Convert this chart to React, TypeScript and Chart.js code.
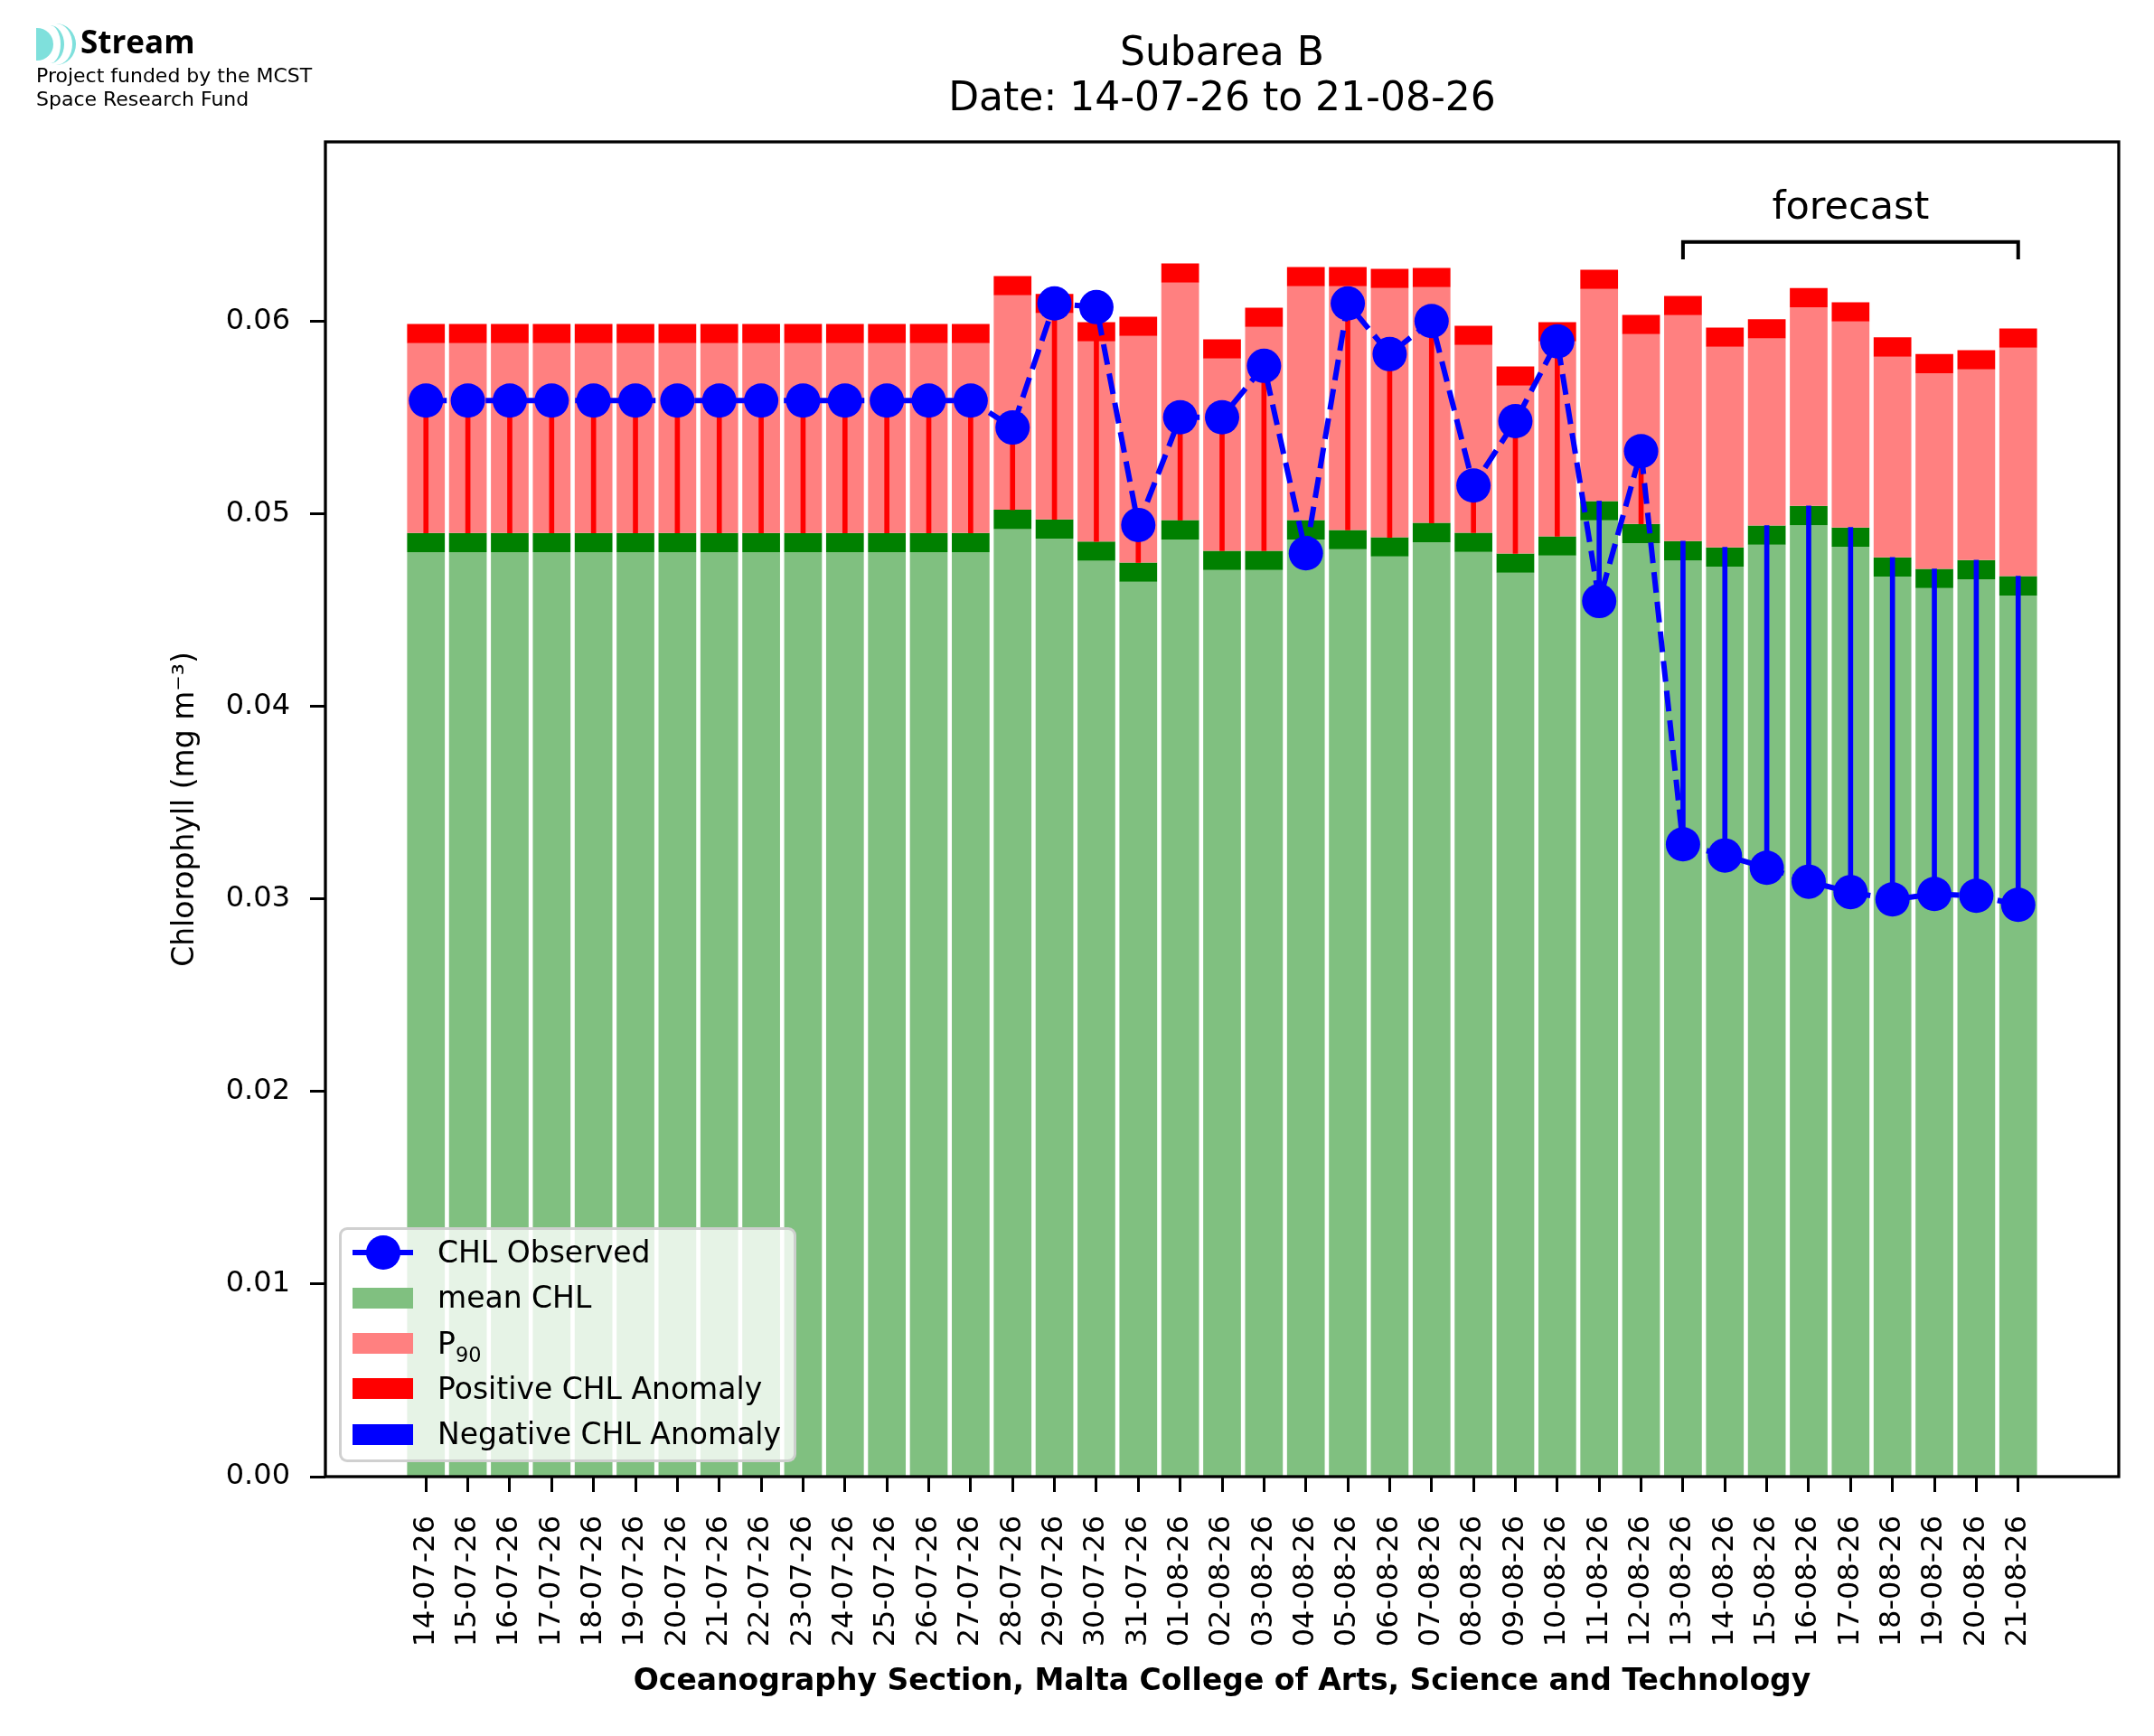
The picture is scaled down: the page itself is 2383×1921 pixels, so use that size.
import React, { useEffect, useRef } from 'react';
import Chart from 'chart.js/auto';

// --- data ---
const dates = [
    '14-07-26', '15-07-26', '16-07-26', '17-07-26', '18-07-26', '19-07-26', '20-07-26',
    '21-07-26', '22-07-26', '23-07-26', '24-07-26', '25-07-26', '26-07-26', '27-07-26',
    '28-07-26', '29-07-26', '30-07-26', '31-07-26', '01-08-26', '02-08-26', '03-08-26',
    '04-08-26', '05-08-26', '06-08-26', '07-08-26', '08-08-26', '09-08-26', '10-08-26',
    '11-08-26', '12-08-26', '13-08-26', '14-08-26', '15-08-26', '16-08-26', '17-08-26',
    '18-08-26', '19-08-26', '20-08-26', '21-08-26',
];

// top of the light green part of each bar
const meanChl = [
    0.0480, 0.0480, 0.0480, 0.0480, 0.0480, 0.0480, 0.0480,
    0.0480, 0.0480, 0.0480, 0.0480, 0.0480, 0.0480, 0.0480,
    0.0492, 0.0487, 0.04755, 0.04646, 0.04866, 0.04707, 0.04707,
    0.04866, 0.04815, 0.04777, 0.04852, 0.04801, 0.04693, 0.04782,
    0.04965, 0.04847, 0.04757, 0.04725, 0.04838, 0.0494, 0.04828,
    0.04673, 0.04613, 0.04659, 0.04575,
];

// top of the pink (P90) part of each bar
const p90Chl = [
    0.05885, 0.05885, 0.05885, 0.05885, 0.05885, 0.05885, 0.05885,
    0.05885, 0.05885, 0.05885, 0.05885, 0.05885, 0.05885, 0.05885,
    0.06133, 0.06041, 0.05894, 0.05922, 0.06199, 0.05805, 0.05969,
    0.0618, 0.0618, 0.06171, 0.06176, 0.05875, 0.05664, 0.05894,
    0.06166, 0.05932, 0.0603, 0.05866, 0.05909, 0.06071, 0.05997,
    0.05815, 0.05729, 0.05749, 0.05861,
];

const observedChl = [
    0.05587, 0.05587, 0.05587, 0.05587, 0.05587, 0.05587, 0.05587,
    0.05587, 0.05587, 0.05587, 0.05587, 0.05587, 0.05587, 0.05587,
    0.05447, 0.06091, 0.06072, 0.04941, 0.0550, 0.0550, 0.05767,
    0.04794, 0.06091, 0.05828, 0.0600, 0.05146, 0.0548, 0.05894,
    0.04546, 0.05324, 0.03283, 0.03225, 0.03161, 0.03089, 0.03035,
    0.02997, 0.03025, 0.03016, 0.02969,
];

// 1 = positive anomaly stem, -1 = negative anomaly stem, 0 = none
const anomalySign = [
    1, 1, 1, 1, 1, 1, 1,
    1, 1, 1, 1, 1, 1, 1,
    1, 1, 1, 1, 1, 1, 1,
    0, 1, 1, 1, 1, 1, 1,
    -1, 1, -1, -1, -1, -1, -1,
    -1, -1, -1, -1,
];

const bandHeight = 0.001;
const yTickValues = [0, 0.01, 0.02, 0.03, 0.04, 0.05, 0.06];
const forecastStart = 30;
const forecastEnd = 38;

const FONT = 'DejaVu Sans';
const LIGHT_GREEN = '#80c080';
const DARK_GREEN = '#008000';
const PINK = '#ff8080';
const RED = '#ff0000';
const BLUE = '#0000ff';

const frameAndLabel = {
    id: 'frameAndLabel',
    afterDraw(chart: any) {
        const { ctx, chartArea, scales } = chart;
        ctx.save();
        ctx.fillStyle = '#000';
        ctx.font = `43px "${FONT}"`;
        ctx.textAlign = 'center';
        ctx.textBaseline = 'alphabetic';
        ctx.fillText('forecast',
            scales.x.getPixelForValue((forecastStart + forecastEnd) / 2),
            scales.y.getPixelForValue(0.0653));
        ctx.strokeStyle = '#000';
        ctx.lineWidth = 3.3;
        ctx.strokeRect(chartArea.left, chartArea.top, chartArea.width, chartArea.height);
        ctx.restore();
    },
};

const ChlChart: React.FC = () => {
    const canvasRef = useRef<HTMLCanvasElement>(null);
    const chartRef = useRef<Chart>();

    useEffect(() => {
        const ctx = canvasRef.current?.getContext('2d');
        if (!ctx) return;
        if (chartRef.current) chartRef.current.destroy();

        const idx = dates.map((_, i) => i);
        const barOpts = { grouped: false, categoryPercentage: 1, barPercentage: 0.9, borderWidth: 0 };
        const stemOpts = { grouped: false, barThickness: 5, borderWidth: 0 };
        const tickGrid = {
            display: true, offset: false, drawOnChartArea: false, drawTicks: true,
            tickLength: 17, tickWidth: 3, tickColor: '#000',
        };

        chartRef.current = new Chart(ctx, {
            type: 'bar',
            data: {
                datasets: [
                    {
                        type: 'line',
                        label: 'CHL Observed',
                        data: observedChl.map((v, i) => ({ x: i, y: v })),
                        borderColor: BLUE,
                        backgroundColor: BLUE,
                        borderWidth: 6,
                        borderDash: [23, 10],
                        pointRadius: 19,
                        pointHoverRadius: 19,
                        pointBorderWidth: 0,
                        pointBackgroundColor: BLUE,
                        tension: 0,
                    },
                    {
                        label: 'Positive CHL Anomaly',
                        data: idx.filter(i => anomalySign[i] > 0)
                            .map(i => ({ x: i, y: [meanChl[i] + bandHeight, observedChl[i]] })),
                        backgroundColor: RED,
                        ...stemOpts,
                    },
                    {
                        label: 'Negative CHL Anomaly',
                        data: idx.filter(i => anomalySign[i] < 0)
                            .map(i => ({ x: i, y: [observedChl[i], meanChl[i] + bandHeight] })),
                        backgroundColor: BLUE,
                        ...stemOpts,
                    },
                    {
                        type: 'line',
                        label: 'forecast bracket',
                        data: [
                            { x: forecastStart, y: 0.0632 },
                            { x: forecastStart, y: 0.0641 },
                            { x: forecastEnd, y: 0.0641 },
                            { x: forecastEnd, y: 0.0632 },
                        ],
                        borderColor: '#000',
                        borderWidth: 4,
                        pointRadius: 0,
                        tension: 0,
                    },
                    {
                        label: 'P90 anomaly band',
                        data: idx.map(i => ({ x: i, y: [p90Chl[i], p90Chl[i] + bandHeight] })),
                        backgroundColor: RED,
                        ...barOpts,
                    },
                    {
                        label: 'P90',
                        data: idx.map(i => ({ x: i, y: [meanChl[i] + bandHeight, p90Chl[i]] })),
                        backgroundColor: PINK,
                        ...barOpts,
                    },
                    {
                        label: 'mean band',
                        data: idx.map(i => ({ x: i, y: [meanChl[i], meanChl[i] + bandHeight] })),
                        backgroundColor: DARK_GREEN,
                        ...barOpts,
                    },
                    {
                        label: 'mean CHL',
                        data: idx.map(i => ({ x: i, y: [0, meanChl[i]] })),
                        backgroundColor: LIGHT_GREEN,
                        ...barOpts,
                    },
                ] as any,
            },
            options: {
                animation: false,
                responsive: true,
                maintainAspectRatio: false,
                events: [],
                layout: { padding: { left: 186, right: 39, top: 157, bottom: 40 } },
                plugins: {
                    legend: { display: false },
                    tooltip: { enabled: false },
                    title: { display: false },
                },
                scales: {
                    x: {
                        type: 'linear',
                        offset: false,
                        min: -2.4,
                        max: 40.4,
                        afterBuildTicks: (scale: any) => {
                            scale.ticks = dates.map((_, i) => ({ value: i }));
                        },
                        afterFit: (scale: any) => { scale.height = 247; },
                        ticks: {
                            autoSkip: false,
                            minRotation: 90,
                            maxRotation: 90,
                            padding: 26,
                            color: '#000',
                            font: { family: FONT, size: 32 },
                            callback: (v: any) => dates[Math.round(Number(v))] ?? '',
                        },
                        grid: tickGrid,
                        border: { display: false },
                        title: {
                            display: true,
                            text: 'Oceanography Section, Malta College of Arts, Science and Technology',
                            color: '#000',
                            font: { family: FONT, size: 33, weight: 'bold' },
                            padding: 0,
                        },
                    },
                    y: {
                        type: 'linear',
                        min: 0,
                        max: 0.0693,
                        afterBuildTicks: (scale: any) => {
                            scale.ticks = yTickValues.map(v => ({ value: v }));
                        },
                        afterFit: (scale: any) => { scale.width = 174; },
                        ticks: {
                            padding: 22,
                            color: '#000',
                            font: { family: FONT, size: 32 },
                            callback: (v: any) => Number(v).toFixed(2),
                        },
                        grid: tickGrid,
                        border: { display: false },
                        title: {
                            display: true,
                            text: 'Chlorophyll (mg m\u207B\u00B3)',
                            color: '#000',
                            font: { family: FONT, size: 33 },
                            padding: 0,
                        },
                    },
                },
            } as any,
            plugins: [frameAndLabel],
        });

        return () => {
            if (chartRef.current) {
                chartRef.current.destroy();
                chartRef.current = undefined;
            }
        };
    }, []);

    return (
        <div style={{ position: 'absolute', left: 0, top: 0, width: 2383, height: 1921 }}>
            <canvas ref={canvasRef}></canvas>
        </div>
    );
};

const legendRows: { label: React.ReactNode; kind: 'line' | 'patch'; color: string }[] = [
    { label: 'CHL Observed', kind: 'line', color: BLUE },
    { label: 'mean CHL', kind: 'patch', color: LIGHT_GREEN },
    { label: <>P<span style={{ fontSize: '0.68em', position: 'relative', top: 9 }}>90</span></>, kind: 'patch', color: PINK },
    { label: 'Positive CHL Anomaly', kind: 'patch', color: RED },
    { label: 'Negative CHL Anomaly', kind: 'patch', color: BLUE },
];

const Legend: React.FC = () => (
    <div style={{
        position: 'absolute', left: 375, top: 1358, width: 506, height: 260,
        boxSizing: 'border-box', border: '3px solid rgba(200,200,200,0.85)', borderRadius: 9,
        background: 'rgba(255,255,255,0.8)', fontFamily: FONT, fontSize: 33, color: '#000',
    }}>
        {legendRows.map((row, i) => {
            const cy = 25 + i * 50.3;
            return (
                <React.Fragment key={i}>
                    {row.kind === 'line' ? (
                        <>
                            <div style={{ position: 'absolute', left: 12, top: cy - 3, width: 67, height: 6, background: row.color }} />
                            <div style={{ position: 'absolute', left: 26.5, top: cy - 19, width: 38, height: 38, borderRadius: '50%', background: row.color }} />
                        </>
                    ) : (
                        <div style={{ position: 'absolute', left: 12, top: cy - 11.5, width: 67, height: 23, background: row.color }} />
                    )}
                    <div style={{ position: 'absolute', left: 106, top: cy - 25, height: 50, lineHeight: '50px', whiteSpace: 'nowrap' }}>
                        {row.label}
                    </div>
                </React.Fragment>
            );
        })}
    </div>
);

const Logo: React.FC = () => {
    const cyan = '#7fe0dc';
    return (
        <>
            <div style={{ position: 'absolute', left: 40, top: 31, width: 19, height: 36, borderRadius: '0 18px 18px 0', background: cyan }} />
            <div style={{ position: 'absolute', left: 40, top: 28, width: 31, height: 42, boxSizing: 'border-box', borderRight: `4px solid ${cyan}`, borderRadius: '0 50% 50% 0' }} />
            <div style={{ position: 'absolute', left: 40, top: 26, width: 44, height: 46, boxSizing: 'border-box', borderRight: `4px solid ${cyan}`, borderRadius: '0 50% 50% 0' }} />
            <div style={{ position: 'absolute', left: 89, top: 28, fontFamily: '"Open Sans"', fontWeight: 700, fontSize: 35, lineHeight: '35px', color: '#000' }}>
                Stream
            </div>
            <div style={{ position: 'absolute', left: 40, top: 71, fontFamily: FONT, fontSize: 22, lineHeight: '26px', color: '#000', whiteSpace: 'nowrap' }}>
                Project funded by the MCST<br />Space Research Fund
            </div>
        </>
    );
};

const App: React.FC = () => (
    <div style={{ position: 'fixed', left: 0, top: 0, width: 2383, height: 1921, background: '#fff', overflow: 'hidden' }}>
        <ChlChart />
        <Logo />
        <div style={{
            position: 'absolute', left: 360, top: 32, width: 1984, textAlign: 'center',
            fontFamily: FONT, fontSize: 44, lineHeight: '50px', color: '#000',
        }}>
            Subarea B<br />Date: 14-07-26 to 21-08-26
        </div>
        <Legend />
    </div>
);

export default App;
